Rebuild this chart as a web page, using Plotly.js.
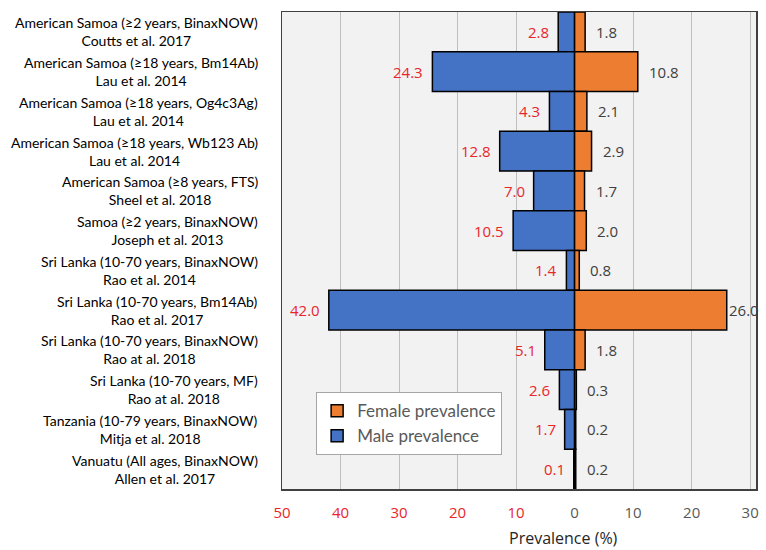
<!DOCTYPE html>
<html>
<head>
<meta charset="utf-8">
<script src="https://cdn.plot.ly/plotly-3.0.1.min.js"></script>
<style>html,body{margin:0;padding:0;background:#fff;}#chart{width:766px;height:550px;}</style>
</head>
<body>
<div id="chart"></div>
<script>
var studies = [
  "American Samoa (≥2 years, BinaxNOW)<br>Coutts et al. 2017",
  "American Samoa (≥18 years, Bm14Ab)<br>Lau et al. 2014",
  "American Samoa (≥18 years, Og4c3Ag)<br>Lau et al. 2014",
  "American Samoa (≥18 years, Wb123 Ab)<br>Lau et al. 2014",
  "American Samoa (≥8 years, FTS)<br>Sheel et al. 2018",
  "Samoa (≥2 years, BinaxNOW)<br>Joseph et al. 2013",
  "Sri Lanka (10-70 years, BinaxNOW)<br>Rao et al. 2014",
  "Sri Lanka (10-70 years, Bm14Ab)<br>Rao et al. 2017",
  "Sri Lanka (10-70 years, BinaxNOW)<br>Rao at al. 2018",
  "Sri Lanka (10-70 years, MF)<br>Rao at al. 2018",
  "Tanzania (10-79 years, BinaxNOW)<br>Mitja et al. 2018",
  "Vanuatu (All ages, BinaxNOW)<br>Allen et al. 2017"
];
var male = [2.8, 24.3, 4.3, 12.8, 7.0, 10.5, 1.4, 42.0, 5.1, 2.6, 1.7, 0.1];
var female = [1.8, 10.8, 2.1, 2.9, 1.7, 2.0, 0.8, 26.0, 1.8, 0.3, 0.2, 0.2];
var tickVals = [-50, -40, -30, -20, -10, 0, 10, 20, 30];
var tickLabels = ["50", "40", "30", "20", "10", "0", "10", "20", "30"];

var yKeys = studies.map(function(s, i){ return "s" + i; });

var font = "Lato, 'Open Sans', sans-serif";
var numFont = "'Open Sans', sans-serif";
var xMax = 31;

var maleTrace = {
  type: "bar", orientation: "h", name: "Male prevalence",
  y: yKeys, x: male.map(function(v){ return -v; }),
  marker: {color: "#4472C4", line: {color: "#000000", width: 1.5}},
  hoverinfo: "skip"
};
var femaleTrace = {
  type: "bar", orientation: "h", name: "Female prevalence",
  y: yKeys, x: female,
  marker: {color: "#ED7D31", line: {color: "#000000", width: 1.5}},
  hoverinfo: "skip"
};

var annotations = [];
studies.forEach(function(s, i){
  annotations.push({xref: "paper", x: 0, yref: "y", y: yKeys[i], text: s, showarrow: false,
    xanchor: "right", yanchor: "middle", align: "center", xshift: -22,
    font: {family: font, size: 14, color: "#000000"}});
  annotations.push({xref: "x", x: -male[i], yref: "y", y: yKeys[i], text: male[i].toFixed(1), showarrow: false,
    xanchor: "right", yanchor: "middle", xshift: -7,
    font: {family: numFont, size: 15, color: "#E8262A"}});
  var nearEdge = female[i] > xMax - 8;
  annotations.push({xref: "x", x: female[i], yref: "y", y: yKeys[i], text: female[i].toFixed(1), showarrow: false,
    xanchor: "left", yanchor: "middle", xshift: nearEdge ? 0 : 9,
    font: {family: numFont, size: 15, color: "#404040"}});
});
annotations.push({xref: "paper", x: 0.593, yref: "paper", y: 0, yshift: -49, text: "Prevalence (%)",
  showarrow: false, xanchor: "center", yanchor: "middle",
  font: {family: numFont, size: 16, color: "#262626"}});

var tickText = tickVals.map(function(v, i){
  return v < 0 ? '<span style="color:#E8262A">' + tickLabels[i] + '</span>' : tickLabels[i];
});

var layout = {
  width: 766, height: 550,
  margin: {l: 282, r: 10, t: 12, b: 61},
  paper_bgcolor: "#ffffff", plot_bgcolor: "#F2F2F2",
  barmode: "relative", bargap: 0,
  showlegend: true,
  legend: {x: 0.072, y: 0.203, xanchor: "left", yanchor: "top", traceorder: "reversed",
    bgcolor: "#ffffff", bordercolor: "#A6A6A6", borderwidth: 1,
    itemwidth: 30, tracegroupgap: 0,
    font: {family: font, size: 17, color: "#595959"}},
  xaxis: {
    range: [-50, xMax], tickvals: tickVals, ticktext: tickText,
    showgrid: true, gridcolor: "#BFBFBF", gridwidth: 1,
    zeroline: true, zerolinecolor: "#000000", zerolinewidth: 2.5,
    showline: true, linecolor: "#404040", linewidth: 1.5, mirror: true,
    ticks: "outside", ticklen: 9, tickcolor: "rgba(0,0,0,0)",
    tickfont: {family: numFont, size: 15, color: "#595959"},
    fixedrange: true
  },
  yaxis: {
    type: "category", categoryorder: "array", categoryarray: yKeys.slice().reverse(),
    showticklabels: false, showgrid: false, zeroline: false,
    showline: true, linecolor: "#404040", linewidth: 1.5, mirror: true,
    fixedrange: true
  },
  annotations: annotations,
  font: {family: font}
};

Plotly.newPlot("chart", [maleTrace, femaleTrace], layout, {displayModeBar: false, staticPlot: true});
</script>
</body>
</html>
